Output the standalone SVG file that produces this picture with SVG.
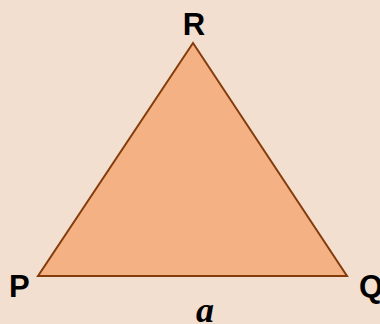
<svg xmlns="http://www.w3.org/2000/svg" width="380" height="324" viewBox="0 0 380 324">
<style>
.lbl{font-family:"Liberation Sans",Arial,sans-serif;font-weight:bold;font-size:31px;fill:#000}
.var{font-family:"Liberation Serif","Times New Roman",serif;font-weight:bold;font-style:italic;font-size:36px;fill:#000}
</style>
<rect width="380" height="324" fill="#F2DFD0"/>
<g id="triangle">
<polygon points="193,43 38,276 347,276" fill="#F4B183" stroke="#843C0C" stroke-width="2" stroke-linejoin="miter"/>
</g>
<g id="label-R"><text class="lbl" x="194" y="35" text-anchor="middle">R</text></g>
<g id="label-P"><text class="lbl" x="9" y="297">P</text></g>
<g id="label-Q"><text class="lbl" x="359" y="297">Q</text></g>
<g id="label-a"><text class="var" x="205" y="322" text-anchor="middle">a</text></g>
</svg>
